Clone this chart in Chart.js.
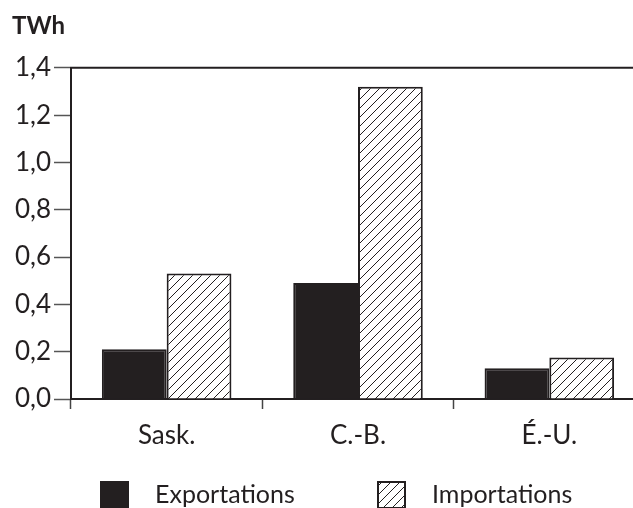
<!DOCTYPE html>
<html>
<head>
<meta charset="utf-8">
<script src="https://cdn.jsdelivr.net/npm/chart.js@4/dist/chart.umd.min.js"></script>
<style>
    body { margin: 0; background: #fff; overflow: hidden; }
    #wrap { width: 633px; height: 508px; overflow: hidden; }
</style>
</head>
<body>
<div id="wrap"><canvas id="chart" width="645" height="508"></canvas></div>
<script>
// data (TWh)
const categories = ['Sask.', 'C.-B.', 'É.-U.'];
const exportations = [0.21, 0.49, 0.13];
const importations = [0.53, 1.32, 0.175];
const yTickLabels = ['0,0', '0,2', '0,4', '0,6', '0,8', '1,0', '1,2', '1,4'];
const seriesNames = ['Exportations', 'Importations'];

const ink = '#231f20';
const fontName = 'Lato, "Noto Sans", sans-serif';

// diagonal hatch for the imports
function hatch() {
    let c = document.createElement('canvas');
    c.width = 9;
    c.height = 9;
    let g = c.getContext('2d');
    g.fillStyle = '#fff';
    g.fillRect(0, 0, 9, 9);
    g.strokeStyle = ink;
    g.lineWidth = 1;
    g.beginPath();
    g.moveTo(-1, 10);
    g.lineTo(10, -1);
    g.moveTo(-1, 1);
    g.lineTo(1, -1);
    g.moveTo(8, 10);
    g.lineTo(10, 8);
    g.stroke();
    return g.createPattern(c, 'repeat');
}

// top border line of the frame
const topLine = {
    id: 'topLine',
    afterDraw(chart) {
        let a = chart.chartArea;
        let ctx = chart.ctx;
        ctx.save();
        ctx.strokeStyle = ink;
        ctx.lineWidth = 2;
        ctx.beginPath();
        ctx.moveTo(a.left - 1, a.top);
        ctx.lineTo(chart.width, a.top);
        ctx.stroke();
        ctx.restore();
    }
};

// legend at the bottom, swatch + text
const bottomLegend = {
    id: 'bottomLegend',
    afterDraw(chart) {
        let ctx = chart.ctx;
        let xs = [100, 377];
        ctx.save();
        chart.data.datasets.forEach((ds, i) => {
            let x = xs[i];
            let y = 481;
            ctx.fillStyle = ds.backgroundColor;
            ctx.fillRect(x, y, 29, 28);
            ctx.strokeStyle = ink;
            ctx.lineWidth = 2;
            ctx.strokeRect(x + 1, y + 1, 27, 26);
            ctx.fillStyle = ink;
            ctx.font = '25px ' + fontName;
            ctx.textBaseline = 'middle';
            ctx.fillText(ds.label, x + 55, y + 14);
        });
        ctx.restore();
    }
};

let ctx = document.getElementById('chart').getContext('2d');
let barChart = new Chart(ctx, {
    type: 'bar',
    data: {
        labels: categories,
        datasets: [{
            label: seriesNames[0],
            data: exportations,
            backgroundColor: ink,
            borderColor: ink,
            borderWidth: 2
        }, {
            label: seriesNames[1],
            data: importations,
            backgroundColor: hatch(),
            borderColor: ink,
            borderWidth: 2
        }]
    },
    options: {
        responsive: false,
        animation: false,
        categoryPercentage: 0.677,
        barPercentage: 1,
        layout: {
            padding: { left: 12, right: 0, top: 0, bottom: 54 }
        },
        plugins: {
            legend: { display: false },
            tooltip: { enabled: false },
            title: {
                display: true,
                text: 'TWh',
                align: 'start',
                color: ink,
                font: { family: fontName, size: 24, weight: 'bold', lineHeight: 1.2 },
                padding: { top: 12, bottom: 27 }
            }
        },
        scales: {
            x: {
                grid: {
                    offset: true,
                    drawOnChartArea: false,
                    tickLength: 10,
                    tickWidth: 1.5,
                    tickColor: '#444'
                },
                border: { display: true, color: ink, width: 2 },
                ticks: {
                    color: ink,
                    padding: 11,
                    font: { family: fontName, size: 26 }
                },
                afterFit: s => { s.height = 55; }
            },
            y: {
                min: 0,
                max: 1.4,
                grid: {
                    drawOnChartArea: false,
                    tickLength: 17,
                    tickWidth: 1.5,
                    tickColor: '#555'
                },
                border: { display: true, color: ink, width: 2 },
                ticks: {
                    stepSize: 0.2,
                    color: ink,
                    padding: 3,
                    font: { family: fontName, size: 26 },
                    callback: (v, i) => yTickLabels[i]
                },
                afterFit: s => { s.width = 59; }
            }
        }
    },
    plugins: [topLine, bottomLegend]
});
</script>
</body>
</html>
